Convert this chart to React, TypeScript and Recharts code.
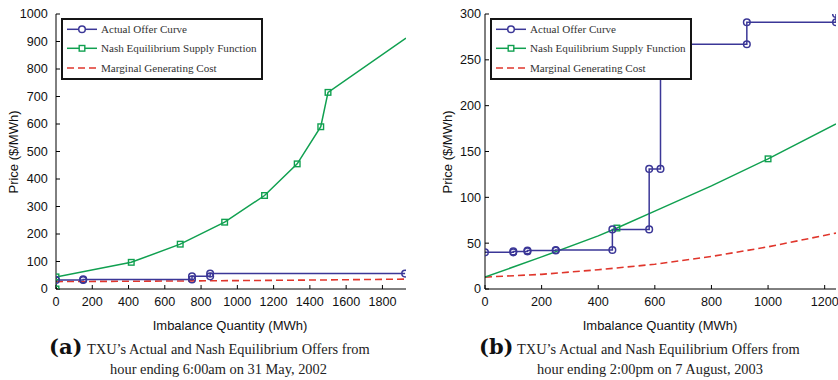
import React from 'react';
import { LineChart, Line, XAxis, YAxis } from 'recharts';

const BLUE = '#3b3797';
const GREEN = '#10a050';
const RED = '#e0362c';

// ---------- Panel (a) ----------
const aActualQty = [0, 150, 150, 750, 750, 850, 850, 1925];
const aActualPrice = [33, 33, 35, 35, 46, 46, 56, 56];
const aNashQty = [0, 0, 415, 685, 930, 1150, 1330, 1460, 1500, 1930];
const aNashPrice = [0, 44, 97, 163, 243, 340, 455, 590, 715, 912];
const aNashMarkerQty = [0, 415, 685, 930, 1150, 1330, 1460, 1500];
const aCostQty = [0, 500, 1000, 1500, 1930];
const aCostPrice = [27, 28.5, 30.5, 33, 36];
const aXTicks = [0, 200, 400, 600, 800, 1000, 1200, 1400, 1600, 1800];
const aYTicks = [0, 100, 200, 300, 400, 500, 600, 700, 800, 900, 1000];

// ---------- Panel (b) ----------
const bActualQty = [0, 100, 100, 150, 150, 250, 250, 450, 450, 580, 580, 620, 620, 925, 925, 1240, 1240];
const bActualPrice = [40, 40, 41, 41, 42, 42, 42.5, 42.5, 65, 65, 131, 131, 267, 267, 291, 291, 300];
const bNashQty = [0, 200, 400, 466, 600, 800, 1000, 1240];
const bNashPrice = [13, 35, 58, 66.5, 85, 112.5, 142, 180];
const bNashMarkerQty = [466, 1000];
const bCostQty = [0, 200, 400, 600, 800, 1000, 1240];
const bCostPrice = [13, 16, 21, 27, 35.5, 46, 61];
const bXTicks = [0, 200, 400, 600, 800, 1000, 1200];
const bYTicks = [0, 50, 100, 150, 200, 250, 300];

const legendLabels = ['Actual Offer Curve', 'Nash Equilibrium Supply Function', 'Marginal Generating Cost'];

const zip = (xs: number[], ys: number[]) => xs.map((x, i) => ({ x, y: ys[i] }));

const SANS = '"Liberation Sans", Arial, Helvetica, sans-serif';
const SERIF = '"Liberation Serif", "Times New Roman", serif';

const circleDot = (props: any) => {
  const { cx, cy, index } = props;
  return <circle key={`c${index}`} cx={cx} cy={cy} r={3.3} fill="none" stroke={BLUE} strokeWidth={1.5} />;
};

const squareDot = (marks: number[]) => (props: any) => {
  const { cx, cy, index, payload } = props;
  if (!marks.includes(payload.x)) return <g key={`s${index}`} />;
  return <rect key={`s${index}`} x={cx - 2.8} y={cy - 2.8} width={5.6} height={5.6} fill="none" stroke={GREEN} strokeWidth={1.4} />;
};

const Legend = ({ left, top }: { left: number; top: number }) => (
  <div
    style={{
      position: 'absolute',
      left,
      top,
      width: 202,
      height: 62,
      boxSizing: 'border-box',
      border: '2px solid #151515',
      background: '#fff',
    }}
  >
    <svg width={198} height={58} style={{ position: 'absolute', left: 0, top: 0 }}>
      <line x1={4} x2={34} y1={9.3} y2={9.3} stroke={BLUE} strokeWidth={1.5} />
      <circle cx={19} cy={9.3} r={3.3} fill="#fff" stroke={BLUE} strokeWidth={1.5} />
      <line x1={4} x2={34} y1={28.3} y2={28.3} stroke={GREEN} strokeWidth={1.5} />
      <rect x={16.2} y={25.5} width={5.6} height={5.6} fill="#fff" stroke={GREEN} strokeWidth={1.4} />
      <line x1={4} x2={34} y1={48} y2={48} stroke={RED} strokeWidth={1.6} strokeDasharray="7 4" />
      {legendLabels.map((t, i) => (
        <text key={t} x={38} y={[9.3, 28.3, 48][i] + 4} fontFamily={SERIF} fontSize={11.1} fill="#333">
          {t}
        </text>
      ))}
    </svg>
  </div>
);

type PanelProps = {
  left: number;
  width: number;
  yAxisWidth: number;
  rightMargin: number;
  xMax: number;
  xTicks: number[];
  yMax: number;
  yTicks: number[];
  yTickMargin: number;
  actual: { x: number; y: number }[];
  nash: { x: number; y: number }[];
  nashMarks: number[];
  cost: { x: number; y: number }[];
};

const Panel = (p: PanelProps) => (
  <div style={{ position: 'absolute', left: p.left, top: 0, width: p.width, height: 340 }}>
    <LineChart width={p.width} height={340} margin={{ top: 14, right: p.rightMargin, bottom: 0, left: 0 }}>
      <XAxis
        dataKey="x"
        type="number"
        domain={[0, p.xMax]}
        ticks={p.xTicks}
        allowDataOverflow
        height={51}
        tickSize={-4}
        tickMargin={12.5}
        axisLine={{ stroke: '#000', strokeWidth: 1 }}
        tickLine={{ stroke: '#000' }}
        tick={{ fill: '#111', fontSize: 12.6, fontFamily: SANS }}
      />
      <XAxis
        xAxisId="top"
        orientation="top"
        dataKey="x"
        type="number"
        domain={[0, p.xMax]}
        ticks={p.xTicks}
        allowDataOverflow
        height={0}
        tickSize={-4}
        axisLine={{ stroke: '#000', strokeWidth: 1 }}
        tickLine={{ stroke: '#000' }}
        tick={false}
      />
      <YAxis
        type="number"
        domain={[0, p.yMax]}
        ticks={p.yTicks}
        allowDataOverflow
        width={p.yAxisWidth}
        tickSize={-4}
        tickMargin={p.yTickMargin}
        axisLine={{ stroke: '#000', strokeWidth: 1 }}
        tickLine={{ stroke: '#000' }}
        tick={{ fill: '#111', fontSize: 12.6, fontFamily: SANS }}
      />
      <YAxis
        yAxisId="r"
        orientation="right"
        type="number"
        domain={[0, p.yMax]}
        ticks={p.yTicks}
        allowDataOverflow
        width={0}
        tickSize={-4}
        axisLine={{ stroke: '#000', strokeWidth: 1 }}
        tickLine={{ stroke: '#000' }}
        tick={false}
      />
      <Line
        data={p.cost}
        dataKey="y"
        type="linear"
        stroke={RED}
        strokeWidth={1.6}
        strokeDasharray="7 4"
        dot={false}
        activeDot={false}
        isAnimationActive={false}
      />
      <Line
        data={p.nash}
        dataKey="y"
        type="linear"
        stroke={GREEN}
        strokeWidth={1.5}
        dot={squareDot(p.nashMarks)}
        activeDot={false}
        isAnimationActive={false}
      />
      <Line
        data={p.actual}
        dataKey="y"
        type="linear"
        stroke={BLUE}
        strokeWidth={1.5}
        dot={circleDot}
        activeDot={false}
        isAnimationActive={false}
      />
    </LineChart>
  </div>
);

const axisTitle: React.CSSProperties = {
  position: 'absolute',
  fontFamily: SANS,
  fontSize: 13,
  color: '#111',
  whiteSpace: 'nowrap',
  lineHeight: '15px',
};

const capLine: React.CSSProperties = {
  position: 'absolute',
  fontFamily: SERIF,
  fontSize: 14.4,
  color: '#222',
  whiteSpace: 'nowrap',
  lineHeight: '18px',
};

const capLetter: React.CSSProperties = {
  position: 'absolute',
  fontFamily: '"DejaVu Serif", serif',
  fontWeight: 'bold',
  fontSize: 21,
  color: '#111',
  whiteSpace: 'nowrap',
  lineHeight: '24px',
};

export default function App() {
  return (
    <div style={{ position: 'absolute', left: 0, top: 0, width: 838, height: 380, background: '#fff', overflow: 'hidden' }}>
      <Panel
        left={0}
        width={420}
        yAxisWidth={56}
        rightMargin={14}
        xMax={1930}
        xTicks={aXTicks}
        yMax={1000}
        yTicks={aYTicks}
        yTickMargin={12.3}
        actual={zip(aActualQty, aActualPrice)}
        nash={zip(aNashQty, aNashPrice)}
        nashMarks={aNashMarkerQty}
        cost={zip(aCostQty, aCostPrice)}
      />
      <Panel
        left={420}
        width={418}
        yAxisWidth={65}
        rightMargin={2}
        xMax={1240}
        xTicks={bXTicks}
        yMax={300}
        yTicks={bYTicks}
        yTickMargin={8}
        actual={zip(bActualQty, bActualPrice)}
        nash={zip(bNashQty, bNashPrice)}
        nashMarks={bNashMarkerQty}
        cost={zip(bCostQty, bCostPrice)}
      />
      <Legend left={61} top={18} />
      <Legend left={490} top={18} />

      <div style={{ ...axisTitle, left: 230, top: 318, transform: 'translateX(-50%)' }}>Imbalance Quantity (MWh)</div>
      <div style={{ ...axisTitle, left: 660, top: 318, transform: 'translateX(-50%)' }}>Imbalance Quantity (MWh)</div>
      <div style={{ ...axisTitle, left: 12.7, top: 152, transform: 'translate(-50%, -50%) rotate(-90deg)' }}>Price ($/MWh)</div>
      <div style={{ ...axisTitle, left: 447.3, top: 152, transform: 'translate(-50%, -50%) rotate(-90deg)' }}>Price ($/MWh)</div>

      <div style={{ ...capLetter, left: 49, top: 335 }}>(a)</div>
      <div style={{ ...capLine, left: 87, top: 340 }}>TXU’s Actual and Nash Equilibrium Offers from</div>
      <div style={{ ...capLine, left: 218.5, top: 360, transform: 'translateX(-50%)' }}>hour ending 6:00am on 31 May, 2002</div>

      <div style={{ ...capLetter, left: 479, top: 335 }}>(b)</div>
      <div style={{ ...capLine, left: 517, top: 340 }}>TXU’s Actual and Nash Equilibrium Offers from</div>
      <div style={{ ...capLine, left: 650, top: 360, transform: 'translateX(-50%)' }}>hour ending 2:00pm on 7 August, 2003</div>
    </div>
  );
}
